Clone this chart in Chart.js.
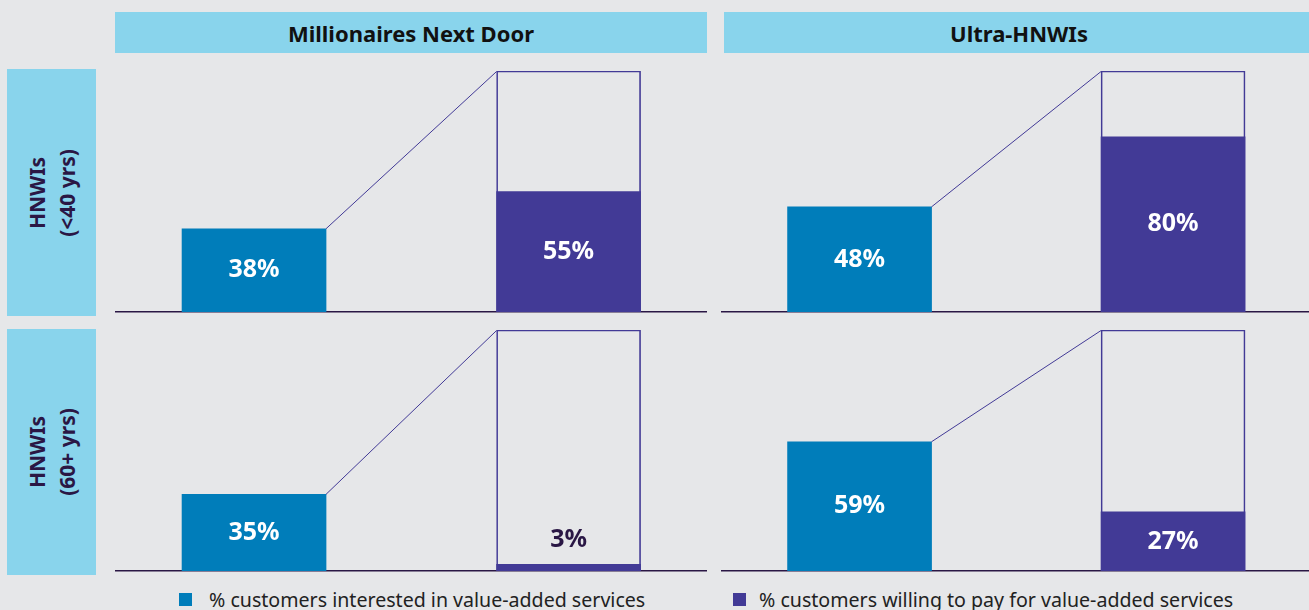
<!DOCTYPE html>
<html>
<head>
<meta charset="utf-8">
<script src="https://cdn.jsdelivr.net/npm/chart.js@4.4.0/dist/chart.umd.min.js"></script>
<style>
  html, body { margin: 0; padding: 0; background: #e6e7e9; }
  body { width: 1309px; height: 610px; position: relative; overflow: hidden; font-family: "Noto Sans", sans-serif; }
  .hdr { position: absolute; top: 12px; height: 41px; background: #89d4ec; color: #111; font-weight: 700; font-size: 22px; display: flex; align-items: center; justify-content: center; }
  .row { position: absolute; left: 7px; width: 89px; background: #89d4ec; }
  .rowtxt { position: absolute; left: 50%; top: 50%; width: 240px; height: 60px; margin-left: -120px; margin-top: -30px; transform: rotate(-90deg); text-align: center; color: #2a1745; font-weight: 700; font-size: 21px; line-height: 30px; }
  .panel { position: absolute; }
  .legend { position: absolute; top: 586px; font-size: 19.6px; color: #222; display: flex; align-items: center; white-space: nowrap; }
  .legend span.sw { display: inline-block; width: 13px; height: 13px; }
</style>
</head>
<body>
<div class="hdr" id="h0" style="left:115px; width:592px;"></div>
<div class="hdr" id="h1" style="left:724px; width:590px;"></div>
<div class="row" style="top:69px; height:247px;"><div class="rowtxt" id="r0"></div></div>
<div class="row" style="top:329px; height:246px;"><div class="rowtxt" id="r1"></div></div>

<div class="panel" style="left:115px; top:66px; width:592px; height:252px;"><canvas id="c00"></canvas></div>
<div class="panel" style="left:721px; top:66px; width:590px; height:252px;"><canvas id="c01"></canvas></div>
<div class="panel" style="left:115px; top:325px; width:592px; height:252px;"><canvas id="c10"></canvas></div>
<div class="panel" style="left:721px; top:325px; width:590px; height:252px;"><canvas id="c11"></canvas></div>

<div class="legend" style="left:179px;"><span class="sw" id="sw0" style="margin-right:17px;"></span><span id="l0"></span></div>
<div class="legend" style="left:733px;"><span class="sw" id="sw1" style="margin-right:13px;"></span><span id="l1"></span></div>

<script>
// ---- data ----
const columnTitles = ['Millionaires Next Door', 'Ultra-HNWIs'];
const rowTitles = [['HNWIs', '(<40 yrs)'], ['HNWIs', '(60+ yrs)']];
const seriesNames = ['% customers interested in value-added services', '% customers willing to pay for value-added services'];
const interestedUnder40 = [38, 48];   // per column
const willingUnder40 = [55, 80];
const interested60plus = [35, 59];
const willing60plus = [3, 27];

// ---- styles ----
const BLUE = '#007dba';
const PURPLE = '#423a96';
const DARK = '#2a1745';
const yMax = 110;

document.getElementById('h0').textContent = columnTitles[0];
document.getElementById('h1').textContent = columnTitles[1];
document.getElementById('r0').innerHTML = rowTitles[0].map(s => s.replace('<', '&lt;')).join('<br>');
document.getElementById('r1').innerHTML = rowTitles[1].join('<br>');
document.getElementById('l0').textContent = seriesNames[0];
document.getElementById('l1').textContent = seriesNames[1];
document.getElementById('sw0').style.background = BLUE;
document.getElementById('sw1').style.background = PURPLE;

const connectorAndLabels = {
  id: 'connectorAndLabels',
  afterDatasetsDraw(chart) {
    const ctx = chart.ctx;
    const blue = chart.getDatasetMeta(0).data[0];
    const purple = chart.getDatasetMeta(1).data[0];
    const frame = chart.getDatasetMeta(2).data[0];
    ctx.save();
    ctx.strokeStyle = PURPLE;
    ctx.lineWidth = 1;
    ctx.beginPath();
    ctx.moveTo(blue.x + blue.width / 2, blue.y);
    ctx.lineTo(frame.x - frame.width / 2, frame.y + 0.5);
    ctx.stroke();
    ctx.font = '700 25px "Noto Sans"';
    ctx.textAlign = 'center';
    ctx.textBaseline = 'middle';
    [[blue, chart.data.datasets[0].data[0].y], [purple, chart.data.datasets[1].data[0].y]].forEach(([el, v]) => {
      const h = el.base - el.y;
      if (h < 30) {
        ctx.fillStyle = DARK;
        ctx.fillText(v + '%', el.x, el.y - 25);
      } else {
        ctx.fillStyle = '#ffffff';
        ctx.fillText(v + '%', el.x, (el.y + el.base) / 2);
      }
    });
    ctx.restore();
  }
};

function makePanel(id, interested, willing) {
  new Chart(document.getElementById(id), {
    type: 'bar',
    data: {
      datasets: [
        { label: seriesNames[0], data: [{ x: 0, y: interested }], backgroundColor: BLUE, grouped: false, order: 1, barThickness: 144 },
        { label: seriesNames[1], data: [{ x: 1, y: willing }], backgroundColor: PURPLE, grouped: false, order: 1, barThickness: 144 },
        { label: 'frame', data: [{ x: 1, y: yMax }], backgroundColor: 'rgba(0,0,0,0)', borderColor: PURPLE, borderWidth: 1, borderSkipped: 'bottom', grouped: false, order: 2, barThickness: 144 }
      ]
    },
    options: {
      responsive: true,
      maintainAspectRatio: false,
      animation: false,
      layout: { padding: { top: 5, bottom: 6, left: 0, right: 0 } },
      plugins: { legend: { display: false }, tooltip: { enabled: false } },
      scales: {
        x: {
          type: 'linear', min: -0.442, max: 1.44, offset: false,
          ticks: { display: false },
          grid: { display: false, drawTicks: false, offset: false },
          border: { display: true, color: '#2a1745', width: 1.5 }
        },
        y: { display: false, min: 0, max: yMax }
      }
    },
    plugins: [connectorAndLabels]
  });
}

makePanel('c00', interestedUnder40[0], willingUnder40[0]);
makePanel('c01', interestedUnder40[1], willingUnder40[1]);
makePanel('c10', interested60plus[0], willing60plus[0]);
makePanel('c11', interested60plus[1], willing60plus[1]);
</script>
</body>
</html>
